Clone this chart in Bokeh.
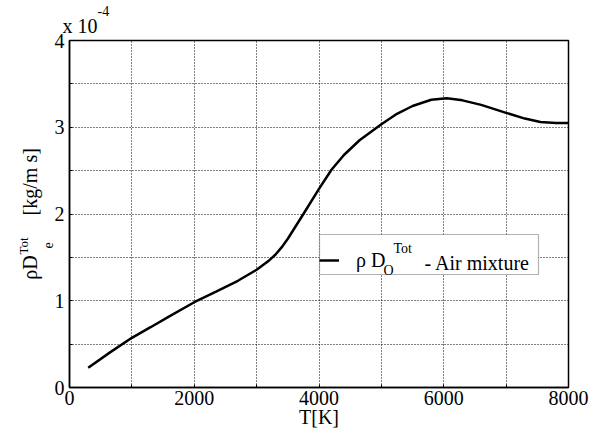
import math
from bokeh.plotting import figure
from bokeh.models import (Range1d, FixedTicker, SingleIntervalTicker, Label,
                          Legend, LegendItem, BoxAnnotation)
from bokeh.embed import file_html
from bokeh.resources import INLINE

# Data (values in units of 1e-4 kg/(m s))
T_K = [300, 650, 1000, 1300, 1600, 2000, 2350, 2700, 3000, 3200, 3300, 3400,
       3500, 3750, 4000, 4200, 4400, 4650, 5000, 5250, 5500, 5800, 6050,
       6300, 6600, 7000, 7300, 7550, 7800, 8000]
rhoD = [0.227, 0.405, 0.573, 0.695, 0.82, 0.983, 1.105, 1.23, 1.357, 1.465,
        1.53, 1.615, 1.715, 2.0, 2.29, 2.51, 2.68, 2.85, 3.035, 3.155, 3.245,
        3.317, 3.335, 3.31, 3.258, 3.166, 3.10, 3.06, 3.05, 3.05]
x_ticks = [0, 2000, 4000, 6000, 8000]
x_minor = [1000, 3000, 5000, 7000]
y_ticks = [0, 1, 2, 3, 4]
y_minor = [0.5, 1.5, 2.5, 3.5]
X0, X1, Y0, Y1 = 0, 8000, 0, 4

FONT = "Liberation Serif"
W, H = 605, 438
FL, FR, FT, FB = 69, 568, 40, 387  # frame edges in page pixels


def dx(px):  # page x pixel -> data x
    return X0 + (px - FL) * (X1 - X0) / (FR - FL)


def dy(py):  # page y pixel -> data y
    return Y0 + (FB - py) * (Y1 - Y0) / (FB - FT)


p = figure(width=W, height=H, output_backend="svg", toolbar_location=None,
           x_range=Range1d(X0, X1), y_range=Range1d(Y0, Y1),
           min_border_left=FL, min_border_right=W - FR, min_border_top=FT,
           min_border_bottom=H - FB, background_fill_color="white",
           border_fill_color="white")
p.outline_line_color = "black"
p.outline_line_width = 1.5

# grid
p.xgrid.ticker = SingleIntervalTicker(interval=1000)
p.ygrid.ticker = SingleIntervalTicker(interval=0.5)
for g in (p.xgrid, p.ygrid):
    g.grid_line_color = "black"
    g.grid_line_dash = "1 2"
    g.grid_line_width = 1
    g.grid_line_alpha = 1.0

# axes
p.xaxis.ticker = FixedTicker(ticks=x_ticks, minor_ticks=x_minor)
p.yaxis.ticker = FixedTicker(ticks=y_ticks, minor_ticks=y_minor)
for ax in (p.xaxis, p.yaxis):
    ax.axis_line_color = "black"
    ax.axis_line_width = 1.5
    ax.major_tick_in = 3
    ax.major_tick_out = 0
    ax.minor_tick_in = 3
    ax.minor_tick_out = 0
    ax.major_tick_line_color = "black"
    ax.minor_tick_line_color = "black"
    ax.major_label_text_font = FONT
    ax.major_label_text_font_size = "20px"
    ax.major_label_text_color = "black"
    ax.axis_label_text_font = FONT
    ax.axis_label_text_font_size = "20px"
    ax.axis_label_text_font_style = "normal"
    ax.axis_label_text_color = "black"
p.xaxis.major_label_standoff = 3
p.yaxis.major_label_standoff = 5
p.xaxis.axis_label = "T[K]"
p.xaxis.axis_label_standoff = -2
p.yaxis.axis_label = "\u03c1D" + "\u00a0" * 8 + "[kg/m s]"
p.yaxis.axis_label_standoff = 11

line = p.line(T_K, rhoD, line_color="black", line_width=2.5)

# legend box, then a transparent legend on top of it
p.add_layout(BoxAnnotation(left=dx(319), right=dx(538), top=dy(234),
                           bottom=dy(274), fill_color="white", fill_alpha=1.0,
                           line_color="black", line_width=1.2))
legend = Legend(items=[LegendItem(label="\u03c1 D", renderers=[line])],
                location=(250, 113), orientation="vertical",
                border_line_color=None, background_fill_alpha=0.0,
                padding=6, spacing=0, margin=0, glyph_width=20, glyph_height=28,
                label_height=28, label_width=170, label_standoff=17,
                label_text_font=FONT, label_text_font_size="20px",
                label_text_color="black")
p.add_layout(legend, "center")


def lab(text, px, py, size, angle=0.0, place="center"):
    p.add_layout(Label(x=dx(px), y=dy(py), text=text, text_font=FONT,
                       text_font_size=size, text_color="black", angle=angle,
                       text_align="left", text_baseline="alphabetic",
                       level="overlay"), place)


# legend sub/superscripts and remainder
lab("O", 383, 270, "14px")
lab("Tot", 393, 248, "14px")
lab("- Air mixture", 424, 262, "20px")

# exponent label
lab("x 10", 62, 25, "20px", place="above")
lab("-4", 97, 10, "14px", place="right")

# y label sub/superscripts (rotated)
r = math.pi / 2
lab("e", 47, 248, "14px", r, place="left")
lab("Tot", 23, 254, "13px", r, place="right")

open("out.html", "w").write(file_html(p, INLINE))
